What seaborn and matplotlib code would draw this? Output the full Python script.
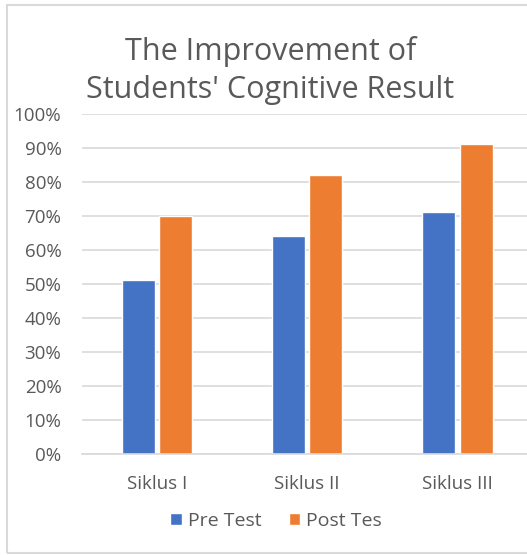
import pandas as pd
import matplotlib.pyplot as plt
import seaborn as sns
from matplotlib.patches import Rectangle
from matplotlib.ticker import PercentFormatter

cycles = ['Siklus I', 'Siklus II', 'Siklus III']
pre_test = [51, 64, 71]
post_test = [70, 82, 91]
series_names = ['Pre Test', 'Post Tes']

df = pd.DataFrame({
    'Siklus': cycles * 2,
    'Score': pre_test + post_test,
    'Test': [series_names[0]] * 3 + [series_names[1]] * 3,
})

sns.set_style('white')
plt.rcParams['font.family'] = ['Open Sans', 'DejaVu Sans']
grey = '#595959'

fig = plt.figure(figsize=(5.27, 5.55), dpi=100)
ax = fig.add_axes([0.156, 0.182, 0.854, 0.613])

sns.barplot(data=df, x='Siklus', y='Score', hue='Test', ax=ax,
            palette=['#4472C4', '#ED7D31'], width=0.5, gap=0.12,
            saturation=1, legend=True)

ax.set_ylim(0, 100)
ax.set_xlim(-0.5, 2.5)
ax.set_yticks(range(0, 101, 10))
ax.yaxis.set_major_formatter(PercentFormatter(decimals=0))
ax.grid(axis='y', color='#D9D9D9', linewidth=1.2)
ax.set_axisbelow(True)
for side in ['top', 'right', 'left']:
    ax.spines[side].set_visible(False)
ax.spines['bottom'].set_color('#D9D9D9')
ax.spines['bottom'].set_linewidth(1.2)
ax.tick_params(axis='both', length=0, labelsize=13.5, labelcolor=grey)
ax.tick_params(axis='x', pad=15)
ax.tick_params(axis='y', pad=15)
ax.set_xlabel('')
ax.set_ylabel('')

handles, labels = ax.get_legend_handles_labels()
ax.get_legend().remove()
fig.legend(handles, labels, loc='center', bbox_to_anchor=(0.524, 0.061),
           ncol=2, frameon=False, fontsize=14, labelcolor=grey,
           handlelength=0.6, handleheight=0.6, handletextpad=0.3,
           columnspacing=1.4)

fig.text(0.513, 0.873, "The Improvement of\nStudents' Cognitive Result",
         ha='center', va='center', fontsize=22, color=grey, linespacing=1.35)

fig.patches.append(Rectangle((7 / 527, 2 / 555), 1.0, 548 / 555,
                             transform=fig.transFigure, fill=False,
                             edgecolor='#D9D9D9', linewidth=1.5))

fig.savefig('out.png', dpi=100)
